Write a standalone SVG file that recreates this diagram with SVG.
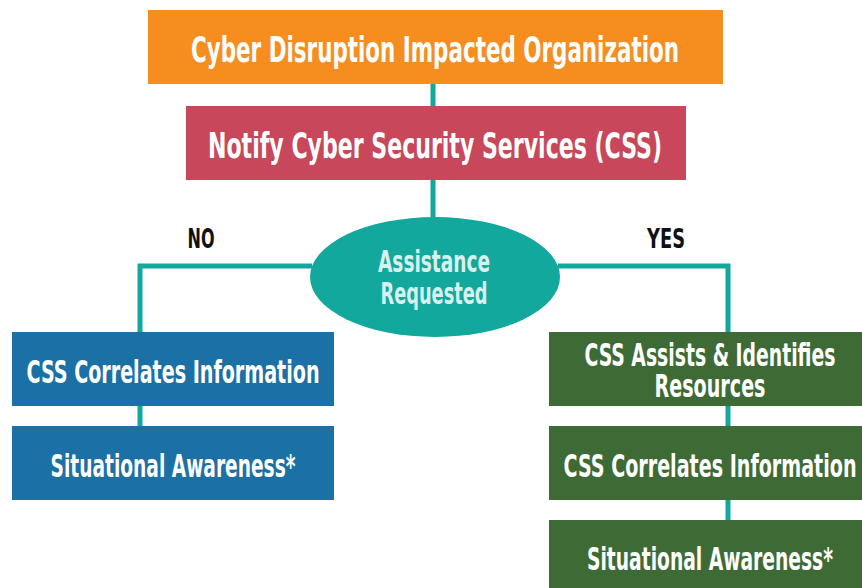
<svg xmlns="http://www.w3.org/2000/svg" width="862" height="588" viewBox="0 0 862 588">
<style>
.t{font-family:"Liberation Sans Narrow","DejaVu Sans Condensed","Liberation Sans",sans-serif;font-weight:bold;fill:#ffffff;text-anchor:middle}
.lbl{font-family:"Liberation Sans Narrow","DejaVu Sans Condensed","Liberation Sans",sans-serif;font-weight:bold;fill:#111111;text-anchor:middle}
.c{stroke:#12A89D;stroke-width:5;fill:none}
.orange{fill:#F68E1F}.red{fill:#C8475A}.blue{fill:#1B70A5}.green{fill:#3E6B35}
</style>
<rect width="862" height="588" fill="#ffffff"/>
<g id="connectors">
<line class="c" x1="433" y1="84" x2="433" y2="106"/>
<line class="c" x1="433" y1="180" x2="433" y2="218"/>
<polyline class="c" points="312,266 140,266 140,332"/>
<polyline class="c" points="558,266 728,266 728,332"/>
<line class="c" x1="140" y1="406" x2="140" y2="426"/>
<line class="c" x1="728" y1="406" x2="728" y2="426"/>
<line class="c" x1="728" y1="500" x2="728" y2="520"/>
</g>
<g id="n-org"><rect class="orange" x="148" y="10" width="575" height="74"/>
<text class="t" x="435" y="62" font-size="36" textLength="488" lengthAdjust="spacingAndGlyphs">Cyber Disruption Impacted Organization</text></g>
<g id="n-notify"><rect class="red" x="186" y="106" width="500" height="74"/>
<text class="t" x="435" y="158" font-size="36" textLength="454" lengthAdjust="spacingAndGlyphs">Notify Cyber Security Services (CSS)</text></g>
<g id="n-assist"><ellipse cx="435" cy="277" rx="125" ry="60" fill="#12A89D"/>
<text class="t" x="434" y="272" font-size="30" fill="#D9F1EE" style="fill:#D9F1EE" textLength="112" lengthAdjust="spacingAndGlyphs">Assistance</text>
<text class="t" x="434" y="304" font-size="30" style="fill:#D9F1EE" textLength="107" lengthAdjust="spacingAndGlyphs">Requested</text></g>
<g id="l-no"><text class="lbl" x="201" y="248" font-size="26" textLength="27" lengthAdjust="spacingAndGlyphs">NO</text></g>
<g id="l-yes"><text class="lbl" x="666" y="248" font-size="26" textLength="38" lengthAdjust="spacingAndGlyphs">YES</text></g>
<g id="n-no-correlate"><rect class="blue" x="12" y="332" width="322" height="74"/>
<text class="t" x="173" y="383" font-size="32" textLength="293" lengthAdjust="spacingAndGlyphs">CSS Correlates Information</text></g>
<g id="n-no-aware"><rect class="blue" x="12" y="426" width="322" height="74"/>
<text class="t" x="173" y="477" font-size="32" textLength="245" lengthAdjust="spacingAndGlyphs">Situational Awareness*</text></g>
<g id="n-yes-assist"><rect class="green" x="549" y="332" width="313" height="74"/>
<text class="t" x="710" y="366" font-size="32" textLength="251" lengthAdjust="spacingAndGlyphs">CSS Assists &amp; Identifies</text>
<text class="t" x="710" y="397" font-size="32" textLength="111" lengthAdjust="spacingAndGlyphs">Resources</text></g>
<g id="n-yes-correlate"><rect class="green" x="549" y="426" width="313" height="74"/>
<text class="t" x="710" y="477" font-size="32" textLength="293" lengthAdjust="spacingAndGlyphs">CSS Correlates Information</text></g>
<g id="n-yes-aware"><rect class="green" x="549" y="520" width="313" height="68"/>
<text class="t" x="710" y="570" font-size="32" textLength="246" lengthAdjust="spacingAndGlyphs">Situational Awareness*</text></g>
</svg>
